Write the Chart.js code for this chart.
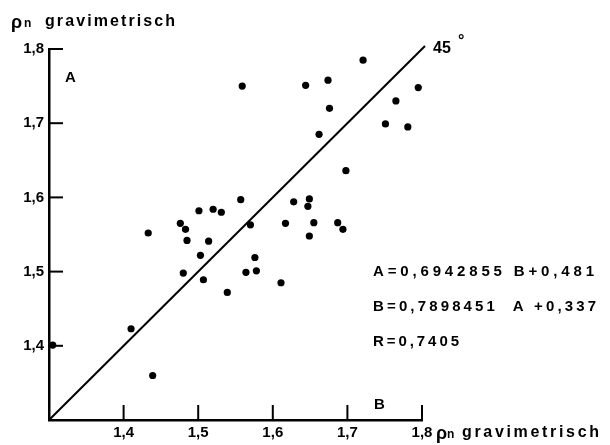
<!DOCTYPE html>
<html><head><meta charset="utf-8">
<script src="https://cdn.jsdelivr.net/npm/chart.js@4.4.1/dist/chart.umd.min.js"></script>
<style>html,body{margin:0;padding:0;background:#fff;}#wrap{width:610px;height:445px;}</style>
</head><body><div id="wrap"><canvas id="c" width="610" height="445"></canvas></div>
<script>
// Data (x = B, y = A, both "ρn gravimetrisch")
const xValues = [1.305,1.410,1.439,1.480,1.433,1.476,1.483,1.485,1.501,1.503,1.520,1.531,1.557,1.514,1.570,1.576,1.507,1.564,1.578,1.539,1.617,1.655,1.687,1.694,1.649,1.611,1.698,1.628,1.649,1.647,1.721,1.644,1.674,1.676,1.662,1.795,1.765,1.751,1.781,1.559];
const yValues = [1.401,1.423,1.360,1.498,1.552,1.565,1.557,1.542,1.582,1.522,1.584,1.580,1.597,1.541,1.563,1.519,1.489,1.499,1.501,1.472,1.565,1.566,1.566,1.557,1.548,1.485,1.636,1.594,1.598,1.588,1.785,1.751,1.758,1.720,1.685,1.748,1.730,1.699,1.695,1.750];
const tickValues = [1.3,1.4,1.5,1.6,1.7,1.8];
const tickLabels = ['','1,4','1,5','1,6','1,7','1,8'];
const axisMin = 1.3, axisMax = 1.8;
const diagX = [1.3, 1.804];
const diagY = [1.3, 1.804];
const axisTitle = 'gravimetrisch';
const equations = ['A=0,6942855 B+0,481', 'B=0,7898451  A +0,337', 'R=0,7405'];

const FONT = '"Liberation Sans", Arial, sans-serif';

function fitText(ctx, text, x, y, width){
  const chars = [...text];
  let nat = 0; const ws = chars.map(c => { const w = ctx.measureText(c).width; nat += w; return w; });
  const sp = chars.length > 1 ? (width - nat) / (chars.length - 1) : 0;
  let cx = x;
  chars.forEach((c, i) => { ctx.fillText(c, cx, y); cx += ws[i] + sp; });
}

const decor = {
  id: 'decor',
  afterDraw(chart){
    const ctx = chart.ctx, xs = chart.scales.x, ys = chart.scales.y, a = chart.chartArea;
    ctx.save();
    ctx.strokeStyle = '#000'; ctx.lineWidth = 2; ctx.lineCap = 'butt';
    tickValues.forEach(v => {
      if (v === axisMin) return;
      const px = xs.getPixelForValue(v);
      ctx.beginPath(); ctx.moveTo(px, a.bottom); ctx.lineTo(px, a.bottom - 15); ctx.stroke();
      const py = ys.getPixelForValue(v);
      ctx.beginPath(); ctx.moveTo(a.left, py); ctx.lineTo(a.left + 14, py); ctx.stroke();
    });
    ctx.fillStyle = '#000'; ctx.textBaseline = 'middle'; ctx.textAlign = 'left';
    // y axis title
    ctx.font = 'bold 18px ' + FONT; ctx.fillText('ρ', 11, 23);
    ctx.font = 'bold 12px ' + FONT; ctx.fillText('n', 24, 24);
    ctx.font = 'bold 16px ' + FONT; fitText(ctx, axisTitle, 45, 22, 130);
    // x axis title
    ctx.font = 'bold 18px ' + FONT; ctx.fillText('ρ', 436, 434);
    ctx.font = 'bold 12px ' + FONT; ctx.fillText('n', 447, 435);
    ctx.font = 'bold 16px ' + FONT; fitText(ctx, axisTitle, 462, 433, 137);
    // corner letters
    ctx.font = 'bold 15px ' + FONT;
    ctx.fillText('A', 65, 78);
    ctx.fillText('B', 374, 405);
    ctx.font = 'bold 16px ' + FONT;
    ctx.fillText('45', 433, 49);
    ctx.font = 'bold 16px ' + FONT; ctx.fillText('°', 458, 42);
    // regression equations
    ctx.font = 'bold 15px ' + FONT;
    fitText(ctx, equations[0], 373, 272, 221);
    fitText(ctx, equations[1], 373, 307, 223);
    fitText(ctx, equations[2], 373, 342, 86);
    ctx.restore();
  }
};

new Chart(document.getElementById('c'), {
  type: 'scatter',
  data: {
    datasets: [
      { data: xValues.map((x, i) => ({x, y: yValues[i]})), pointRadius: 3.6, pointBackgroundColor: '#000', pointBorderWidth: 0, showLine: false },
      { data: diagX.map((x, i) => ({x, y: diagY[i]})), showLine: true, borderColor: '#000', borderWidth: 2, pointRadius: 0, clip: false }
    ]
  },
  options: {
    responsive: false, animation: false, devicePixelRatio: 1,
    layout: { padding: { left: 0, top: 49, right: 188, bottom: 0 } },
    plugins: { legend: { display: false }, tooltip: { enabled: false } },
    scales: {
      x: {
        type: 'linear', min: axisMin, max: axisMax,
        afterBuildTicks: s => { s.ticks = tickValues.map(v => ({ value: v })); },
        afterFit: s => { s.height = 25; },
        ticks: { callback: (v, i) => tickLabels[i], color: '#000', font: { family: FONT, size: 15, weight: 'bold' }, padding: 4, maxRotation: 0, autoSkip: false },
        grid: { drawOnChartArea: false, drawTicks: false },
        border: { color: '#000', width: 2.5 }
      },
      y: {
        type: 'linear', min: axisMin, max: axisMax,
        afterBuildTicks: s => { s.ticks = tickValues.map(v => ({ value: v })); },
        afterFit: s => { s.width = 49; },
        ticks: { callback: (v, i) => tickLabels[i], color: '#000', font: { family: FONT, size: 15, weight: 'bold' }, padding: 5, autoSkip: false },
        grid: { drawOnChartArea: false, drawTicks: false },
        border: { color: '#000', width: 2.5 }
      }
    }
  },
  plugins: [decor]
});
</script></body></html>
